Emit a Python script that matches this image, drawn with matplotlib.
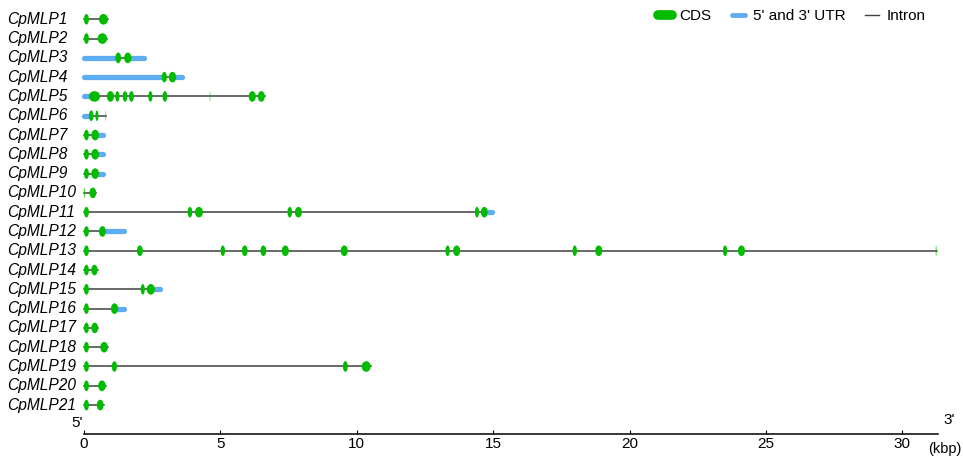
import matplotlib
matplotlib.use("Agg")
import matplotlib.pyplot as plt
from matplotlib.patches import Ellipse
from matplotlib.lines import Line2D
import matplotlib.transforms as mtransforms

plt.rcParams['font.family'] = ['Liberation Sans', 'DejaVu Sans']

# gene names, top to bottom
genes = ['CpMLP%d' % i for i in range(1, 22)]

# coding exons per gene (start, end) in kbp
cds = [
    [(0, 0.18), (0.55, 0.88)],
    [(0, 0.18), (0.50, 0.85)],
    [(1.15, 1.36), (1.47, 1.74)],
    [(2.85, 3.04), (3.11, 3.38)],
    [(0.18, 0.59), (0.84, 1.10), (1.15, 1.30), (1.42, 1.59), (1.65, 1.83),
     (2.36, 2.51), (2.88, 3.05), (4.61, 4.63), (6.04, 6.30), (6.37, 6.63)],
    [(0.18, 0.35), (0.42, 0.53), (0.79, 0.81)],
    [(0, 0.18), (0.27, 0.55)],
    [(0, 0.18), (0.27, 0.55)],
    [(0, 0.18), (0.27, 0.55)],
    [(0, 0.03), (0.20, 0.45)],
    [(0, 0.18), (3.80, 3.97), (4.07, 4.36), (7.46, 7.63), (7.73, 7.99),
     (14.33, 14.48), (14.55, 14.80)],
    [(0, 0.18), (0.55, 0.80)],
    [(0, 0.18), (1.94, 2.16), (5.01, 5.17), (5.79, 6.00), (6.47, 6.68),
     (7.25, 7.51), (9.41, 9.67), (13.25, 13.41), (13.53, 13.79),
     (17.91, 18.07), (18.74, 19.00), (23.42, 23.58), (23.97, 24.23),
     (31.22, 31.25)],
    [(0, 0.18), (0.27, 0.50)],
    [(0, 0.18), (2.08, 2.23), (2.30, 2.60)],
    [(0, 0.18), (0.99, 1.25)],
    [(0, 0.18), (0.27, 0.52)],
    [(0, 0.18), (0.60, 0.88)],
    [(0, 0.18), (1.02, 1.21), (9.49, 9.67), (10.18, 10.51)],
    [(0, 0.18), (0.52, 0.80)],
    [(0, 0.18), (0.47, 0.72)],
]

# untranslated regions per gene (start, end) in kbp
utr = [
    [], [],
    [(0, 1.15), (1.74, 2.20)],
    [(0, 2.85), (3.38, 3.58)],
    [(0, 0.18)],
    [(0, 0.18)],
    [(0.55, 0.70)], [(0.55, 0.70)], [(0.55, 0.70)],
    [],
    [(14.80, 14.95)],
    [(0.80, 1.47)],
    [(31.25, 31.28)],
    [],
    [(2.60, 2.78)],
    [(1.25, 1.48)],
    [], [], [], [], [],
]

cds_color = '#00bb00'
utr_color = '#5eacf2'
intron_color = '#404040'

fig = plt.figure(figsize=(9.63, 4.62), dpi=100)
ax = fig.add_axes([0.0787, 0.0606, 0.9037, 0.9394])
ax.set_xlim(-0.3, 31.6)
ax.set_ylim(22.5, 0)

label_trans = mtransforms.blended_transform_factory(fig.transFigure, ax.transData)

for i, name in enumerate(genes):
    y = i + 1
    parts = cds[i] + utr[i]
    start = min(p[0] for p in parts)
    end = max(p[1] for p in parts)
    ax.plot([start, end], [y, y], color=intron_color, lw=1.1, zorder=1)
    for s, e in utr[i]:
        ax.plot([s, e], [y, y], color=utr_color, lw=3.8,
                solid_capstyle='round', zorder=2)
    for s, e in cds[i]:
        ax.add_patch(Ellipse(((s + e) / 2, y), e - s, 0.55,
                             facecolor=cds_color, edgecolor='none', zorder=3))
    ax.text(7 / 963, y, name, transform=label_trans, ha='left', va='center',
            fontsize=11.2, fontstyle='italic')

# scale bar along the bottom
for side in ['top', 'right', 'left']:
    ax.spines[side].set_visible(False)
ax.spines['bottom'].set_bounds(0, 31.3)
ax.spines['bottom'].set_linewidth(1.1)
ax.set_yticks([])
ax.set_xticks([0, 5, 10, 15, 20, 25, 30])
ax.tick_params(axis='x', direction='in', length=3, width=0.8, pad=2,
               labelsize=11)

ax.annotate("5'", xy=(0, 22.5), xytext=(-1, 3), textcoords='offset points',
            ha='right', va='bottom', fontsize=11)
ax.annotate("3'", xy=(31.3, 22.5), xytext=(4, 5), textcoords='offset points',
            ha='left', va='bottom', fontsize=11)
ax.annotate("(kbp)", xy=(30.94, 22.5), xytext=(0, -6), textcoords='offset points',
            ha='left', va='top', fontsize=10.5)

handles = [
    Line2D([], [], color=cds_color, lw=7, solid_capstyle='round'),
    Line2D([], [], color=utr_color, lw=3.5, solid_capstyle='round'),
    Line2D([], [], color=intron_color, lw=1),
]
ax.legend(handles, ['CDS', "5' and 3' UTR", 'Intron'], ncol=3, frameon=False,
          loc='upper right', bbox_to_anchor=(935 / 963, 1.0),
          bbox_transform=fig.transFigure, fontsize=11, handlelength=0.9,
          handletextpad=0.5, columnspacing=1.3, borderaxespad=0.2)

fig.savefig('out.png', dpi=100)
